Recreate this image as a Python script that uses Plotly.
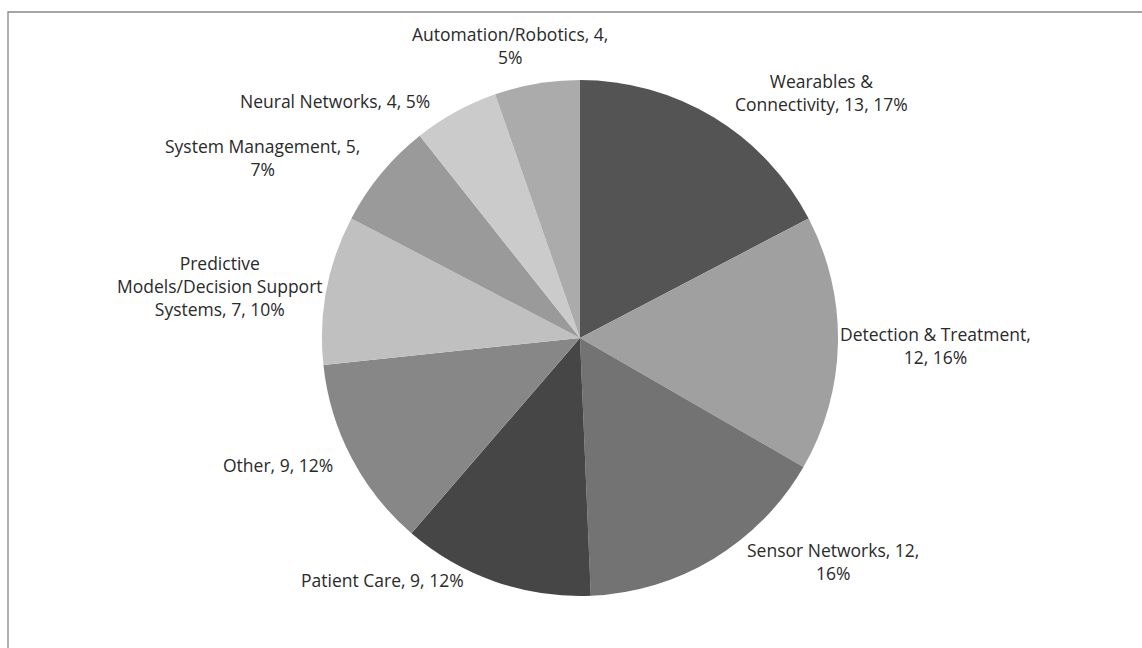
import plotly.graph_objects as go

W, H = 1142, 648

categories = ["Wearables & Connectivity", "Detection & Treatment", "Sensor Networks",
              "Patient Care", "Other", "Predictive Models/Decision Support Systems",
              "System Management", "Neural Networks", "Automation/Robotics"]
values = [13, 12, 12, 9, 9, 7, 5, 4, 4]
percent_labels = ["17%", "16%", "16%", "12%", "12%", "10%", "7%", "5%", "5%"]
colors = ["#545454", "#a0a0a0", "#737373", "#464646", "#878787",
          "#c0c0c0", "#9a9a9a", "#cbcbcb", "#ababab"]

label_lines = [
    ["Wearables &", "Connectivity, {v}, {p}"],
    ["Detection & Treatment,", "{v}, {p}"],
    ["Sensor Networks, {v},", "{p}"],
    ["Patient Care, {v}, {p}"],
    ["Other, {v}, {p}"],
    ["Predictive", "Models/Decision Support", "Systems, {v}, {p}"],
    ["System Management, {v},", "{p}"],
    ["Neural Networks, {v}, {p}"],
    ["Automation/Robotics, {v},", "{p}"],
]
# label centre positions in window pixels
label_pos = [(821, 93), (935, 345), (833, 561), (382, 580), (278, 465),
             (220, 286), (262, 158), (335, 101), (510, 46)]

cx, cy, r = 580, 338, 258


def px2paper(px, py):
    return px / W, 1 - py / H


fig = go.Figure(go.Pie(
    labels=categories, values=values, sort=False, direction="clockwise",
    rotation=0, marker=dict(colors=colors, line=dict(width=0)),
    textinfo="none", hoverinfo="label+value+percent", showlegend=False,
    domain=dict(x=[(cx - r) / W, (cx + r) / W], y=[1 - (cy + r) / H, 1 - (cy - r) / H]),
))

annotations = []
for lines, v, p, (px, py) in zip(label_lines, values, percent_labels, label_pos):
    txt = "<br>".join(l.format(v=v, p=p) for l in lines)
    x, y = px2paper(px, py)
    annotations.append(dict(
        x=x, y=y, xref="paper", yref="paper", text=txt,
        showarrow=False, xanchor="center", yanchor="middle", align="center",
        font=dict(family="Open Sans, sans-serif", size=17.5, color="#2a2a2a"),
    ))

bx0, by1 = px2paper(8, 12)
fig.update_layout(
    width=W, height=H, margin=dict(l=0, r=0, t=0, b=0),
    paper_bgcolor="white", plot_bgcolor="white",
    annotations=annotations,
    shapes=[dict(type="rect", xref="paper", yref="paper",
                 x0=bx0, x1=1.3, y0=-0.3, y1=by1,
                 line=dict(color="#888888", width=1.3), fillcolor="rgba(0,0,0,0)", layer="below")],
)

fig.write_html(
    "out.html",
    config={"displayModeBar": False},
    post_script="document.body.style.margin='0';document.body.style.overflow='hidden';",
)
